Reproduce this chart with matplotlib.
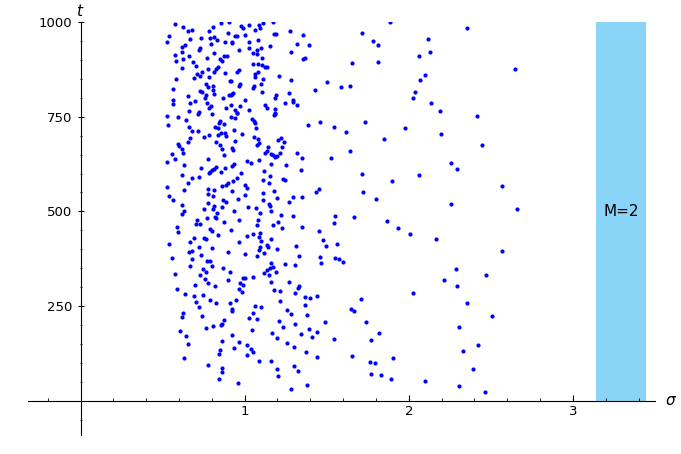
import numpy as np
import matplotlib
matplotlib.use("Agg")
import matplotlib.pyplot as plt
from matplotlib.ticker import MultipleLocator, FixedLocator
from matplotlib.patches import Rectangle

# Punkte (sigma, t)
sigma = [
    # oben links
    0.573, 0.624, 0.652, 0.681, 0.542, 0.526, 0.670, 0.736, 0.780, 0.807, 0.858, 0.906, 0.896, 0.943,
    0.786, 0.813, 0.831, 0.882, 0.921, 0.795, 0.636, 0.620, 0.731, 0.723, 0.573, 0.618, 0.658, 0.579,
    0.624, 0.768, 0.815, 0.874, 0.894, 0.847, 0.864, 0.685, 0.701, 0.835, 0.827, 0.620, 0.778, 0.738,
    0.711, 0.815, 0.878, 0.693, 0.727, 0.784, 0.579, 0.762, 0.776, 0.807, 0.809, 0.912, 0.563, 0.731,
    0.742, 0.652, 0.766, 0.758, 0.813, 0.870, 0.906, 0.921, 0.565, 0.561, 0.668, 0.695, 0.770, 0.797,
    0.780, 0.888, 0.916, 0.660, 0.721, 0.713, 0.801,
    # oben mitte
    0.978, 0.988, 1.024, 1.063, 1.089, 1.094, 1.110, 1.173, 1.179, 1.191, 1.277, 1.356, 0.951, 1.000,
    0.923, 1.024, 1.081, 1.024, 1.100, 1.073, 1.053, 1.077, 1.106, 1.155, 1.321, 1.394, 1.281, 1.366,
    1.356, 0.967, 1.053, 1.081, 1.106, 1.122, 1.134, 0.955, 0.963, 1.061, 1.081, 1.065, 1.114, 1.211,
    1.285, 0.919, 0.970, 0.963, 1.057, 1.053, 1.098, 1.106, 1.272, 0.927, 0.919, 1.004, 1.189, 1.183,
    1.293, 1.293, 1.248, 1.321, 0.972, 0.939, 0.953, 1.028, 1.122, 1.134, 1.187, 1.187,
    # oben rechts
    1.888, 1.712, 2.356, 1.783, 1.811, 2.118, 2.132, 2.061, 1.655, 1.815, 2.647, 2.098, 2.069, 1.504,
    1.429, 1.585, 1.644, 2.035, 2.027, 2.134, 2.193,
    # 2. Reihe links
    0.524, 0.595, 0.640, 0.532, 0.662, 0.677, 0.717, 0.782, 0.752, 0.843, 0.851, 0.874, 0.819, 0.839,
    0.858, 0.878, 0.837, 0.884, 0.916, 0.935, 0.666, 0.652, 0.591, 0.599, 0.620, 0.559, 0.575, 0.626,
    0.526, 0.823, 0.849, 0.864, 0.876, 0.925, 0.929, 0.774, 0.632, 0.736, 0.803, 0.815, 0.788, 0.827,
    0.782, 0.721, 0.677, 0.652, 0.620, 0.880, 0.855, 0.933, 0.921, 0.528, 0.628, 0.774, 0.778, 0.815,
    0.809, 0.860, 0.884, 0.900, 0.929, 0.542, 0.565, 0.921, 0.778, 0.868, 0.884, 0.620, 0.754, 0.813,
    # 2. Reihe mitte
    0.955, 0.943, 1.047, 1.057, 1.061, 1.067, 1.179, 1.187, 1.384, 0.986, 1.057, 1.081, 1.089, 1.077,
    1.203, 1.220, 1.240, 1.230, 1.144, 1.134, 1.126, 1.213, 1.159, 1.175, 1.187, 1.199, 0.939, 1.317,
    1.350, 1.342, 1.012, 1.037, 1.085, 1.159, 1.252, 1.118, 0.976, 1.155, 0.951, 1.110, 1.146, 1.236,
    1.244, 1.000, 1.012, 1.179, 1.114, 1.004, 0.959, 1.114, 1.195, 1.293, 1.350, 1.270, 1.146, 1.155,
    1.020, 1.069,
    # 2. Reihe rechts
    1.461, 1.545, 1.620, 1.732, 1.974, 1.848, 2.417, 2.199, 2.445, 1.644, 1.524, 2.258, 2.291, 1.712,
    1.897, 2.063, 2.569, 1.451, 1.433, 1.722, 1.799, 2.258, 2.657,
    # 3. Reihe links
    0.628, 0.616, 0.807, 0.864, 0.833, 0.819, 0.827, 0.872, 0.937, 0.709, 0.701, 0.725, 0.770, 0.587,
    0.591, 0.786, 0.799, 0.839, 0.916, 0.689, 0.670, 0.754, 0.766, 0.721, 0.803, 0.542, 0.681, 0.664,
    0.733, 0.559, 0.677, 0.668, 0.770, 0.790, 0.803, 0.896, 0.868, 0.908, 0.575, 0.746, 0.762, 0.729,
    0.758, 0.778, 0.819, 0.900, 0.697, 0.587, 0.636, 0.689, 0.746, 0.786, 0.705, 0.823, 0.908,
    # 3. Reihe mitte
    1.094, 1.159, 1.220, 1.293, 0.965, 1.081, 1.073, 1.175, 1.203, 1.230, 1.350, 1.012, 1.049, 1.094,
    1.089, 1.098, 1.163, 0.963, 1.138, 1.142, 1.094, 1.085, 1.077, 1.118, 1.199, 1.004, 1.313, 1.333,
    1.244, 1.305, 1.163, 1.171, 1.155, 1.138, 1.191, 1.118, 1.146, 0.988, 1.000, 1.053, 0.972, 0.992,
    1.159, 1.272, 1.329, 1.325, 0.967, 0.984, 1.179, 1.216, 1.309, 1.370, 1.398, 0.947, 1.216,
    # 3. Reihe rechts
    1.553, 1.543, 1.667, 1.866, 1.937, 2.010, 2.167, 1.451, 1.478, 1.496, 1.563, 1.457, 1.463, 1.551,
    1.577, 1.602, 2.569, 2.285, 2.470, 2.214, 2.291, 2.023, 1.439, 1.709, 2.356,
    # unten links
    0.721, 0.921, 0.925, 0.624, 0.616, 0.742, 0.872, 0.860, 0.855, 0.807, 0.766, 0.607, 0.640, 0.656,
    0.925, 0.860, 0.937, 0.851, 0.843, 0.628, 0.774, 0.860, 0.860, 0.843,
    # unten mitte
    1.366, 1.061, 1.102, 1.260, 1.281, 1.382, 1.053, 1.024, 1.073, 1.211, 1.305, 1.236, 1.045, 1.167,
    1.195, 1.342, 1.394, 0.963, 1.016, 1.041, 1.053, 1.016, 1.260, 1.301, 1.374, 1.089, 1.159, 1.199,
    1.301, 1.325, 1.203, 0.959, 1.378, 1.281,
    # unten rechts
    1.646, 1.669, 2.508, 1.492, 1.738, 1.443, 1.409, 1.819, 1.772, 1.547, 2.303, 2.421, 2.328, 1.443,
    1.655, 1.764, 1.795, 1.903, 2.393, 1.770, 1.829, 1.894, 2.100, 2.303, 2.462,
]

t = [
    994, 987, 976, 978, 964, 948, 955, 958, 975, 986, 996, 999, 971, 964,
    959, 960, 952, 948, 945, 943, 939, 935, 931, 925, 913, 920, 909, 896,
    901, 904, 918, 910, 910, 902, 897, 894, 884, 882, 876, 878, 875, 869,
    862, 869, 865, 851, 857, 854, 849, 837, 829, 832, 821, 843, 823, 818,
    814, 804, 806, 800, 809, 800, 807, 811, 793, 783, 786, 792, 787, 777,
    772, 773, 781, 764, 762, 758, 758,
    990, 983, 992, 980, 992, 983, 997, 999, 969, 967, 976, 966, 962, 966,
    946, 946, 953, 932, 931, 927, 918, 915, 906, 936, 941, 938, 922, 906,
    902, 927, 890, 888, 887, 882, 880, 869, 874, 864, 867, 855, 850, 858,
    846, 843, 837, 832, 830, 825, 836, 816, 813, 813, 807, 795, 806, 799,
    795, 790, 785, 781, 777, 769, 760, 767, 781, 772, 770, 758,
    1000, 971, 985, 951, 938, 956, 922, 909, 892, 894, 875, 861, 846, 842,
    821, 829, 831, 814, 800, 785, 766,
    752, 748, 741, 729, 724, 712, 713, 703, 697, 733, 738, 731, 722, 719,
    706, 706, 701, 699, 750, 715, 694, 682, 678, 673, 666, 652, 638, 653,
    631, 683, 676, 664, 648, 668, 661, 639, 623, 615, 609, 611, 604, 618,
    601, 592, 587, 576, 595, 615, 604, 625, 620, 564, 557, 560, 546, 557,
    541, 567, 569, 576, 580, 541, 529, 553, 523, 530, 525, 518, 506, 513,
    761, 747, 745, 738, 733, 719, 755, 759, 729, 704, 696, 690, 680, 675,
    689, 694, 683, 669, 669, 659, 655, 655, 652, 648, 643, 645, 687, 655,
    641, 609, 634, 627, 636, 625, 622, 606, 601, 594, 587, 583, 574, 585,
    583, 569, 562, 555, 548, 544, 534, 530, 536, 537, 539, 525, 520, 513,
    511, 509,
    736, 724, 710, 737, 721, 690, 751, 704, 675, 660, 641, 629, 613, 600,
    580, 595, 566, 559, 550, 551, 533, 519, 506,
    501, 493, 507, 512, 496, 485, 482, 473, 500, 478, 468, 466, 482, 459,
    447, 454, 449, 438, 452, 431, 420, 431, 427, 405, 403, 415, 396, 392,
    385, 376, 375, 357, 368, 369, 355, 392, 350, 341, 334, 347, 341, 331,
    322, 310, 302, 318, 306, 295, 283, 276, 280, 266, 260, 257, 259,
    495, 500, 491, 489, 477, 478, 464, 463, 471, 456, 458, 436, 440, 443,
    433, 422, 426, 419, 412, 406, 405, 397, 383, 389, 401, 387, 410, 382,
    362, 359, 364, 354, 352, 346, 339, 337, 332, 325, 324, 328, 311, 306,
    315, 313, 303, 299, 294, 287, 292, 289, 285, 274, 271, 266, 263,
    489, 470, 485, 474, 457, 441, 428, 449, 424, 409, 414, 380, 365, 378,
    375, 367, 395, 348, 332, 318, 303, 285, 278, 270, 257,
    247, 242, 237, 231, 221, 224, 214, 203, 200, 198, 193, 185, 170, 150,
    175, 157, 140, 135, 124, 112, 96, 87, 77, 59,
    252, 251, 249, 240, 230, 227, 233, 219, 215, 212, 203, 196, 186, 179,
    166, 176, 189, 156, 147, 138, 129, 122, 152, 143, 128, 106, 104, 84,
    93, 78, 66, 48, 41, 31,
    242, 238, 223, 208, 209, 182, 168, 178, 161, 163, 194, 148, 132, 115,
    119, 102, 99, 113, 85, 71, 69, 57, 53, 39, 23,
]

# Balken fuer M=2
band_x = (3.14, 3.445)
band_t = (0, 1000)
band_label = "M=2"

fig = plt.figure(figsize=(6.81, 4.54), dpi=100)
ax = fig.add_axes([0.0411, 0.0419, 0.9207, 0.9097])

ax.add_patch(Rectangle((band_x[0], band_t[0]), band_x[1] - band_x[0], band_t[1] - band_t[0],
                       facecolor="#89d4f7", edgecolor="none", zorder=1))
ax.text((band_x[0] + band_x[1]) / 2, 500, band_label, ha="center", va="center", fontsize=11, zorder=3)

ax.scatter(sigma, t, s=9, color="#0000ff", linewidths=0, zorder=2)

ax.set_xlim(-0.32, 3.5)
ax.set_ylim(-90, 1000)

# Achsen im Ursprung wie bei Sage
for side in ["top", "right"]:
    ax.spines[side].set_visible(False)
ax.spines["left"].set_position(("data", 0))
ax.spines["bottom"].set_position(("data", 0))
for side in ["left", "bottom"]:
    ax.spines[side].set_linewidth(0.8)

ax.xaxis.set_major_locator(FixedLocator([1, 2, 3]))
ax.xaxis.set_minor_locator(MultipleLocator(0.2))
ax.yaxis.set_major_locator(FixedLocator([250, 500, 750, 1000]))
ax.yaxis.set_minor_locator(MultipleLocator(50))
ax.tick_params(axis="y", which="major", length=4, width=0.8, labelsize=9.5, direction="inout", pad=4)
ax.tick_params(axis="y", which="minor", length=2, width=0.6, direction="inout")
ax.tick_params(axis="x", which="major", length=4, width=0.8, labelsize=9.5, direction="in", pad=3)
ax.tick_params(axis="x", which="minor", length=2, width=0.6, direction="in")

ax.text(3.56, 0, r"$\sigma$", fontsize=11, ha="left", va="center", clip_on=False)
ax.text(0, 1008, r"$t$", fontsize=11, ha="center", va="bottom", clip_on=False)

fig.savefig("out.png", dpi=100)
